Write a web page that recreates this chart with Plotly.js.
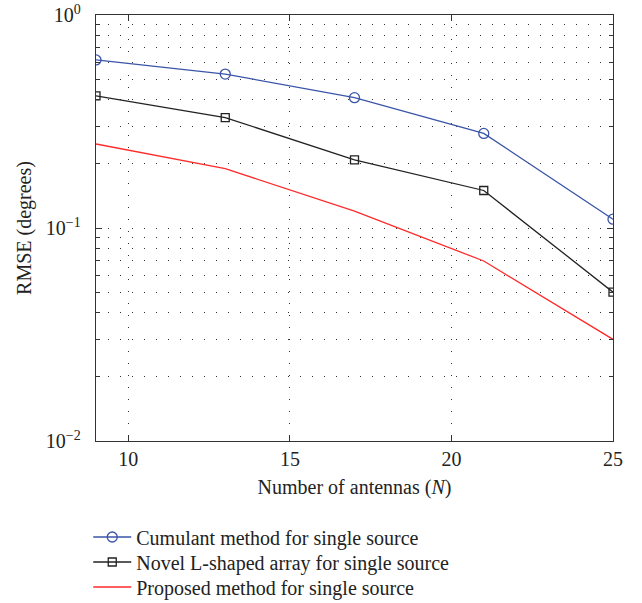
<!DOCTYPE html>
<html><head><meta charset="utf-8">
<script src="https://cdn.plot.ly/plotly-3.0.1.min.js"></script>
<style>body{margin:0;background:#fff}</style>
</head><body>
<div id="chart" style="width:642px;height:603px"></div>
<script>
const antennas = [9, 13, 17, 21, 25];
const cumulant = [0.615, 0.528, 0.409, 0.278, 0.110];
const novelL   = [0.417, 0.330, 0.209, 0.150, 0.050];
const proposed = [0.248, 0.190, 0.120, 0.070, 0.030];
const seriesNames = ["Cumulant method for single source", "Novel L-shaped array for single source", "Proposed method for single source"];
const xTicks = [10, 15, 20, 25];
const yTickVals = [0.01, 0.1, 1];
const yTickText = ["10<sup>\u22122</sup>", "10<sup>\u22121</sup>", "10<sup>0</sup>"];

const font = {family: "Liberation Serif, Times New Roman, serif", size: 20, color: "#222"};
const gridDash = "1px,11px";
const traces = [
  {x: antennas, y: cumulant, name: seriesNames[0], mode: "lines+markers", legend: "legend",
   line: {color: "#3a55a8", width: 1.3}, marker: {symbol: "circle-open", size: 10, color: "#3a55a8", line: {width: 1.3}}},
  {x: antennas, y: novelL, name: seriesNames[1], mode: "lines+markers", legend: "legend2",
   line: {color: "#222", width: 1.3}, marker: {symbol: "square-open", size: 8, color: "#222", line: {width: 1.3}}},
  {x: antennas, y: proposed, name: seriesNames[2], mode: "lines", legend: "legend3",
   line: {color: "#ff2a2a", width: 1.3}}
];
function leg(y) {
  return {x: -0.015, y: y, xanchor: "left", yanchor: "middle", orientation: "v",
          font: font, itemwidth: 38, bgcolor: "rgba(0,0,0,0)"};
}
const layout = {
  width: 642, height: 603,
  margin: {l: 96, r: 29, t: 15, b: 162, autoexpand: false},
  paper_bgcolor: "#fff", plot_bgcolor: "#fff",
  font: font,
  showlegend: true,
  legend: leg(-0.2254),
  legend2: leg(-0.284),
  legend3: leg(-0.3427),
  xaxis: {range: [9, 25], tickvals: xTicks, ticks: "inside", ticklen: 6, tickcolor: "#333",
          showline: true, linecolor: "#333", linewidth: 1.3, mirror: "ticks",
          showgrid: true, gridcolor: "#333", griddash: gridDash, gridwidth: 1, zeroline: false,
          tickfont: font,
          title: {text: "Number of antennas (<i>N</i>)", font: font, standoff: 10}},
  yaxis: {type: "log", range: [-2, 0], tickvals: yTickVals, ticktext: yTickText,
          ticks: "inside", ticklen: 6, tickcolor: "#333", tickfont: font, ticklabelstandoff: 10,
          showline: true, linecolor: "#333", linewidth: 1.3, mirror: "ticks",
          showgrid: true, gridcolor: "#333", griddash: gridDash, gridwidth: 1, zeroline: false,
          minor: {dtick: "D1", ticks: "inside", ticklen: 4, tickcolor: "#333", showgrid: true, gridcolor: "#333", griddash: gridDash, gridwidth: 1},
          title: {text: "RMSE (degrees)", font: font, standoff: 8}}
};
Plotly.newPlot("chart", traces, layout, {displayModeBar: false, staticPlot: true});
</script>
</body></html>
